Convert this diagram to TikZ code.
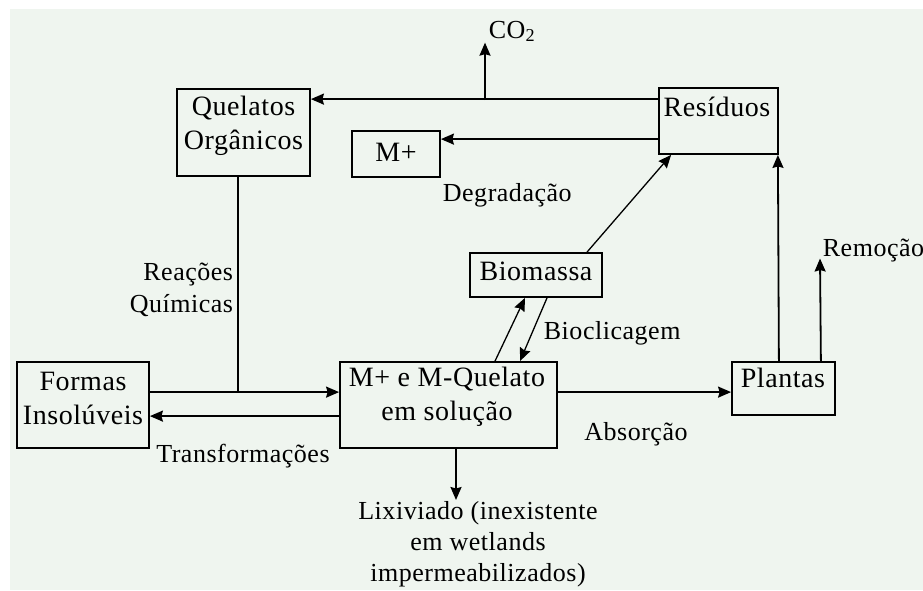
\documentclass[tikz,border=0pt]{standalone}
\usepackage{fontspec}
\setmainfont{Liberation Serif}[LetterSpace=2]
\usepackage{tikz}
\usetikzlibrary{positioning,arrows.meta}
\definecolor{fundo}{RGB}{239,245,239}

\begin{document}
\begin{tikzpicture}[x=1pt,y=-1pt,line width=1.8pt,>={Stealth[length=13pt,width=11pt,inset=1.5pt]},
	caixa/.style={draw,rectangle,inner sep=0pt},
	texto/.style={inner sep=0pt,align=center,font=\fontsize{28}{34}\selectfont},
	rotulo/.style={inner sep=0pt,align=center,font=\fontsize{26}{32.5}\selectfont},
	fina/.style={line width=1.3pt}]
		\useasboundingbox (0,0) rectangle (923,590);
		\fill[fundo] (10,9) rectangle (923,590);

		% caixas
		\node[caixa,minimum width=133pt,minimum height=87pt](quel) at (243.5,132.5){};
		\node[caixa,minimum width=88pt,minimum height=46pt](mmais) at (396,154){};
		\node[caixa,minimum width=119pt,minimum height=66pt](res) at (718.5,121){};
		\node[caixa,minimum width=132pt,minimum height=44pt](bio) at (536,275){};
		\node[caixa,minimum width=132pt,minimum height=86pt](formas) at (83,405){};
		\node[caixa,minimum width=217pt,minimum height=86pt](msol) at (448.5,405){};
		\node[caixa,minimum width=103pt,minimum height=53pt](plantas) at (783.5,388.5){};

		\node[texto](quel_t) at (243.5,125.5){Quelatos\\Orgânicos};
		\node[texto,anchor=base](mmais_t) at (396,161.3){M+};
		\node[texto,anchor=base](res_t) at (717,116.6){Resíduos};
		\node[texto,anchor=base](bio_t) at (536,280.6){Biomassa};
		\node[texto](formas_t) at (83,398){Formas\\Insolúveis};
		\node[texto](msol_t) at (447,397){M+ e M-Quelato\\em solução};
		\node[texto,anchor=base](plantas_t) at (783,387.6){Plantas};

		% rotulos
		\node[rotulo,anchor=base west](co2) at (488,38){CO\textsubscript{2}};
		\node[rotulo,anchor=base west](degr) at (442,201){Degradação};
		\node[rotulo,align=right,anchor=east](reac) at (234,290){Reações\\Químicas};
		\node[rotulo,anchor=base west](biocl) at (543,339){Bioclicagem};
		\node[rotulo,anchor=base](transf) at (243,462){Transformações};
		\node[rotulo,anchor=base](absor) at (636,440){Absorção};
		\node[rotulo,anchor=base west](remo) at (822,256){Remoção};
		\node[rotulo,font=\fontsize{26}{31}\selectfont](lix) at (478,544){Lixiviado (inexistente\\em wetlands\\impermeabilizados)};

		\coordinate (ramo) at (485,100);
		\coordinate (juncao) at (238,393);
		\coordinate (lix_topo) at (456,500);

		\draw[->] ([yshift=-12pt]res.north west) -- ([yshift=-11pt]quel.north east);
		\draw[->] (ramo) -- (ramo |- co2.south);
		\draw[->] ([yshift=-52pt]res.north west) -- ([yshift=-9pt]mmais.north east);
		\draw (quel.south -| juncao) -- (juncao);
		\draw[->] ([yshift=-31pt]formas.north east) -- ([yshift=-31pt]msol.north west);
		\draw[->] ([yshift=-55pt]msol.north west) -- ([yshift=-55pt]formas.north east);
		\draw[->] ([xshift=7.5pt]msol.south) -- (lix_topo);
		\draw[->] ([yshift=-31pt]msol.north east) -- ([yshift=-31pt]plantas.north west);
		\draw[->] (plantas.north -| res.south east) -- ([xshift=-1pt]res.south east);
		\draw[->] ([xshift=-15pt]plantas.north east) -- ([shift={(-2pt,-2.5pt)}]remo.base west);
		\draw[->,fina] ([xshift=51pt]bio.north) -- ([xshift=13pt]res.south west);
		\draw[->,fina] ([xshift=46.5pt]msol.north) -- ([xshift=-11pt]bio.south);
		\draw[->,fina] ([xshift=11pt]bio.south) -- ([xshift=71.5pt]msol.north);
	\end{tikzpicture}
\end{document}
